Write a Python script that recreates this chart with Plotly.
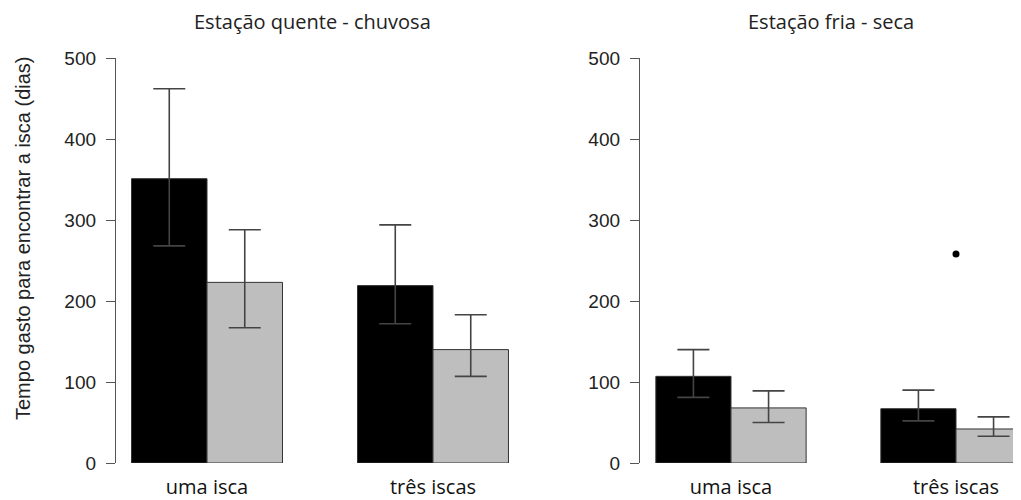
import plotly.graph_objects as go

# ---- data ----
categories = ["uma isca", "três iscas"]
cat_pos = [0, 1]

# Estação quente - chuvosa
hot_black = [351, 219]
hot_black_hi = [462, 294]
hot_black_lo = [268, 172]
hot_gray = [223, 140]
hot_gray_hi = [288, 183]
hot_gray_lo = [167, 107]

# Estação fria - seca
cold_black = [107, 67]
cold_black_hi = [140, 90]
cold_black_lo = [81, 52]
cold_gray = [68, 42]
cold_gray_hi = [89, 57]
cold_gray_lo = [50, 33]
outlier_x = [1]
outlier_y = [258]

yticks = [0, 100, 200, 300, 400, 500]
titles = ["Estação quente - chuvosa", "Estação fria - seca"]
ytitle = "Tempo gasto para encontrar a isca (dias)"

# ---- style ----
# page body has an 8px margin, so the figure is sized to fill the rest of the window
OFF = 8
W, H = 1021 - OFF, 500 - OFF
BLACK = "#000000"
GRAY = "#bebebe"
EDGE = "#333333"
ERR = "#444444"
BW = 0.334

def px(v):
    return (v - OFF) / W

def py(v):
    return (H - (v - OFF)) / H

fig = go.Figure()

def add_bars(vals, hi, lo, color, offset, xa, ya):
    fig.add_trace(go.Bar(
        x=cat_pos, y=vals, width=BW, offset=offset,
        marker=dict(color=color, line=dict(color=EDGE, width=1)),
        error_y=dict(type="data", symmetric=False,
                     array=[h - v for h, v in zip(hi, vals)],
                     arrayminus=[v - l for l, v in zip(lo, vals)],
                     color=ERR, thickness=1.6, width=16),
        xaxis=xa, yaxis=ya, showlegend=False, hoverinfo="skip"))

add_bars(hot_black, hot_black_hi, hot_black_lo, BLACK, -BW, "x", "y")
add_bars(hot_gray, hot_gray_hi, hot_gray_lo, GRAY, 0, "x", "y")
add_bars(cold_black, cold_black_hi, cold_black_lo, BLACK, -BW, "x2", "y2")
add_bars(cold_gray, cold_gray_hi, cold_gray_lo, GRAY, 0, "x2", "y2")

fig.add_trace(go.Scatter(x=outlier_x, y=outlier_y, mode="markers",
                         marker=dict(color="black", size=7),
                         xaxis="x2", yaxis="y2", showlegend=False, hoverinfo="skip"))

num_font = dict(family="Liberation Sans, Arial, sans-serif", size=19, color="#222")
cat_font = dict(family="Open Sans, sans-serif", size=20, color="#111")
title_font = dict(family="Open Sans, sans-serif", size=20, color="#222")

ydom = [py(463), py(58)]

def xaxis(dom, rng, anchor):
    return dict(domain=dom, range=rng, anchor=anchor, showline=False, showgrid=False,
                zeroline=False, ticks="", tickvals=cat_pos, ticktext=categories,
                tickfont=cat_font, ticklabelstandoff=10, fixedrange=True,
                automargin=False)

def yaxis(anchor):
    return dict(domain=ydom, range=[0, 500], anchor=anchor, showline=True,
                linecolor="#555", linewidth=1.3, ticks="outside", ticklen=9,
                tickwidth=1.3, tickcolor="#555", tickvals=yticks, tickfont=num_font,
                showgrid=False, zeroline=False, fixedrange=True, ticklabelstandoff=6,
                automargin=False)

fig.update_layout(
    width=W, height=H,
    margin=dict(l=0, r=0, t=0, b=0, pad=0),
    paper_bgcolor="white", plot_bgcolor="white",
    barmode="overlay",
    xaxis=xaxis([px(116), px(546)], [-0.4027, 1.5], "y"),
    yaxis=yaxis("x"),
    xaxis2=xaxis([px(640), 1.0], [-0.4044, 1.2889], "y2"),
    yaxis2=yaxis("x2"),
    annotations=[
        dict(text=titles[0], x=px(312), y=py(22), xref="paper", yref="paper",
             xanchor="center", yanchor="middle", showarrow=False, font=title_font),
        dict(text=titles[1], x=px(831), y=py(22), xref="paper", yref="paper",
             xanchor="center", yanchor="middle", showarrow=False, font=title_font),
        dict(text=ytitle, x=px(23), y=py(238), xref="paper", yref="paper",
             xanchor="center", yanchor="middle", textangle=-90, showarrow=False,
             font=dict(family="Liberation Sans, Arial, sans-serif", size=20, color="#222")),
    ],
)

fig.write_html("out.html")
